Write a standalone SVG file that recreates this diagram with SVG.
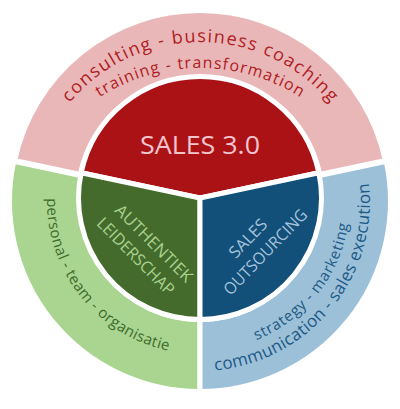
<svg xmlns="http://www.w3.org/2000/svg" width="400" height="409" viewBox="0 0 400 409">
<style>
.seg{stroke:#fff;stroke-width:5;stroke-linejoin:miter}
.t{font-family:"Open Sans","Noto Sans","Liberation Sans",sans-serif}
.core{font-size:16.5px;text-anchor:middle}
</style>
<defs>
<path id="arcTop1" d="M 30 212 A 170 170 0 0 1 370 212"/>
<path id="arcTop2" d="M 13 255 A 187 187 0 0 1 387 255"/>
<path id="arcLeft" d="M 47.02 198.33 A 153 153 0 0 0 276.5 333.5"/>
<path id="arcRight1" d="M 256.2 340.1 A 150 150 0 0 0 329.9 126"/>
<path id="arcRight2" d="M 214.8 370.4 A 170 170 0 0 0 359.7 142.9"/>
</defs>
<rect width="400" height="409" fill="#fff"/>

<g id="ring-top">
<path class="seg" fill="#E9B7B8" d="M 14.7 160.4 A 189.5 189.5 0 0 1 385.3 160.4 L 319.8 174.5 A 122.5 122.5 0 0 0 80.2 174.5 Z"/>
<text class="t" font-size="18" fill="#B01C23"><textPath href="#arcTop1" startOffset="50%" text-anchor="middle" textLength="297" lengthAdjust="spacing">consulting - business coaching</textPath></text>
<text class="t" font-size="16" fill="#B01C23"><textPath href="#arcTop2" startOffset="50%" text-anchor="middle" textLength="212" lengthAdjust="spacing">training - transformation</textPath></text>
</g>

<g id="ring-left">
<path class="seg" fill="#A9D590" d="M 13.7 161.4 A 190.5 190.5 0 0 0 200 391.5 L 200 319.5 A 118.5 118.5 0 0 1 84.1 176.4 Z"/>
<text class="t" font-size="15" fill="#3F6B2C"><textPath href="#arcLeft" textLength="211" lengthAdjust="spacing">personal - team - organisatie</textPath></text>
</g>

<g id="ring-right">
<path class="seg" fill="#9DC0D9" d="M 386.3 161.4 A 190.5 190.5 0 0 1 200 391.5 L 200 319.5 A 118.5 118.5 0 0 0 315.9 176.4 Z"/>
<text class="t" font-size="15" fill="#1B5A86"><textPath href="#arcRight1" textLength="155" lengthAdjust="spacing">strategy - marketing</textPath></text>
<text class="t" font-size="17" fill="#1B5A86"><textPath href="#arcRight2" textLength="270" lengthAdjust="spacing">communication - sales execution</textPath></text>
</g>

<g id="core-sales">
<path class="seg" fill="#AB1215" d="M 81.16 172.74 A 121.5 121.5 0 0 1 318.84 172.74 L 200 198 Z"/>
<text class="t" x="200" y="154" font-size="25" fill="#F2C4CE" text-anchor="middle" textLength="120" lengthAdjust="spacingAndGlyphs">SALES 3.0</text>
</g>

<g id="core-leiderschap">
<path class="seg" fill="#446B2B" d="M 81.16 172.74 A 121.5 121.5 0 0 0 200 319.5 L 200 198 Z"/>
<g transform="translate(145 249.5) rotate(45)">
<text class="t core" x="1.8" y="-5" fill="#A9D18E" textLength="102" lengthAdjust="spacingAndGlyphs">AUTHENTIEK</text>
<text class="t core" x="-1.8" y="17" fill="#A9D18E" textLength="102" lengthAdjust="spacingAndGlyphs">LEIDERSCHAP</text>
</g>
</g>

<g id="core-outsourcing">
<path class="seg" fill="#124F79" d="M 318.84 172.74 A 121.5 121.5 0 0 1 200 319.5 L 200 198 Z"/>
<g transform="translate(256.5 245) rotate(-46)">
<text class="t core" x="-1.1" y="-5" fill="#A4C3DC" textLength="47" lengthAdjust="spacingAndGlyphs">SALES</text>
<text class="t core" x="1.1" y="17" fill="#A4C3DC" textLength="112" lengthAdjust="spacingAndGlyphs">OUTSOURCING</text>
</g>
</g>
</svg>
